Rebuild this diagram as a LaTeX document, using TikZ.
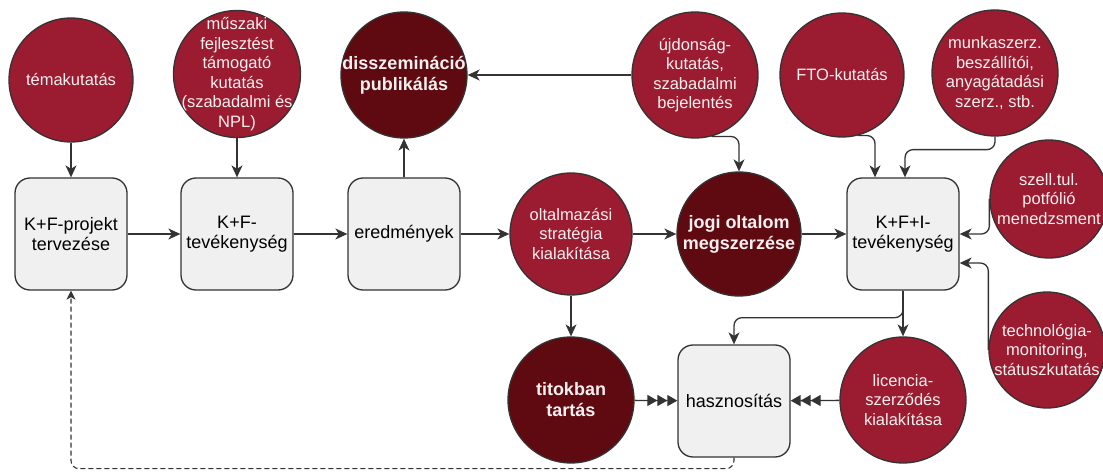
\documentclass[tikz,border=0pt]{standalone}
\usepackage{fontspec}
\setmainfont{Liberation Sans}
\usetikzlibrary{arrows.meta,calc}
\definecolor{cred}{HTML}{9B1B30}
\definecolor{cdark}{HTML}{5E0A10}
\definecolor{cbox}{HTML}{F0F0F0}
\definecolor{cline}{HTML}{333333}
\definecolor{ctext}{HTML}{F7F0F0}
\tikzset{
 bub/.style={circle, draw=cline, line width=1.3pt, inner sep=0pt, minimum size=#1},
 redb/.style={bub=#1, fill=cred},
 darkb/.style={bub=#1, fill=cdark},
 ctxt/.style={text=ctext, align=center, font=\fontsize{16.5}{19.5}\selectfont, inner sep=0pt},
 btxt/.style={text=ctext, align=center, font=\fontsize{18}{21}\selectfont\bfseries, inner sep=0pt},
 box/.style={draw=cline, fill=cbox, line width=1.3pt, rounded corners=15pt, minimum width=112pt, minimum height=112pt, inner sep=0pt, align=center, font=\fontsize{18}{20.5}\selectfont},
 conn/.style={draw=cline, line width=1.3pt, -{Stealth[length=12pt,width=11pt,inset=3.5pt]}, rounded corners=8pt},
 tri/.style={draw=cline, line width=1.3pt, -{Triangle[length=10pt,width=11pt,sep=0pt]Triangle[length=10pt,width=11pt,sep=0pt]Triangle[length=10pt,width=11pt]}},
 dconn/.style={draw=cline, line width=1.1pt, dash pattern=on 5pt off 3pt, -{Stealth[length=9pt,width=9pt,inset=2.5pt]}, rounded corners=8pt},
}
\begin{document}
\begin{tikzpicture}[x=1pt,y=-1pt]
\useasboundingbox (0,0) rectangle (1103,473);
% top row
\node[redb=124pt] (tema) at (71,80) {};
\node[ctxt] (tema-t) at (tema) {témakutatás};
\node[redb=127pt] (musz) at (237,74) {};
\node[ctxt] (musz-t) at (musz) {műszaki\\fejlesztést\\támogató\\kutatás\\(szabadalmi és\\NPL)};
\node[darkb=126pt] (dissz) at (404,75) {};
\node[btxt] (dissz-t) at (dissz) {disszemináció\\publikálás};
\node[redb=126pt] (ujd) at (695,75) {};
\node[ctxt] (ujd-t) at (ujd) {újdonság-\\kutatás,\\szabadalmi\\bejelentés};
\node[redb=124pt] (fto) at (842,75) {};
\node[ctxt] (fto-t) at (fto) {FTO-kutatás};
\node[redb=126pt] (munk) at (995,73) {};
\node[ctxt] (munk-t) at (munk) {munkaszerz.\\beszállítói,\\anyagátadási\\szerz., stb.};
% middle row
\node[box] (kfp) at (71,234) {K+F-projekt\\tervezése};
\node[box] (kft) at (237,234) {K+F-\\tevékenység};
\node[box] (ered) at (404,234) {eredmények};
\node[redb=122pt] (olt) at (571,234) {};
\node[ctxt] (olt-t) at (olt) {oltalmazási\\stratégia\\kialakítása};
\node[darkb=124pt] (jogi) at (739,234) {};
\node[btxt] (jogi-t) at (jogi) {jogi oltalom\\megszerzése};
\node[box] (kfi) at (903,234) {K+F+I-\\tevékenység};
\node[redb=118pt] (szell) at (1049,199) {};
\node[ctxt] (szell-t) at (szell) {szell.tul.\\potfólió\\menedzsment};
\node[redb=116pt] (tech) at (1047,350) {};
\node[ctxt] (tech-t) at (tech) {technológia-\\monitoring,\\státuszkutatás};
% bottom row
\node[darkb=126pt] (titok) at (571,400) {};
\node[btxt] (titok-t) at (titok) {titokban\\tartás};
\node[box] (hasz) at (734,401) {hasznosítás};
\node[redb=126pt] (lic) at (903,400) {};
\node[ctxt] (lic-t) at (lic) {licencia-\\szerződés\\kialakítása};
% connectors
\draw[conn] (tema) -- (kfp);
\draw[conn] (musz) -- (kft);
\draw[conn] (kfp) -- (kft);
\draw[conn] (kft) -- (ered);
\draw[conn] (ered) -- (dissz);
\draw[conn] (ered) -- (olt);
\draw[conn] (olt) -- (jogi);
\draw[conn] (jogi) -- (kfi);
\draw[conn] (ujd) -- (dissz);
\draw[conn] (ujd.-75) -| (jogi.north);
\coordinate (kfi-n1) at ($(kfi.north)+(-28,0)$);
\coordinate (kfi-n2) at ($(kfi.north)+(2,0)$);
\coordinate (kfi-e2) at ($(kfi.east)+(0,29)$);
\draw[conn] (fto.-75) -| (kfi-n1);
\draw[conn] (munk.south) -- ++(0,13) -| (kfi-n2);
\draw[conn] (szell.west) |- (kfi.east);
\draw[conn] (tech.west) |- (kfi-e2);
\draw[conn] (kfi) -- (lic);
\draw[conn] (kfi.south) -- ++(0,27) -| (hasz.north);
\draw[conn] (olt) -- (titok);
\draw[tri] (titok) -- (hasz);
\draw[tri] (lic) -- (hasz);
\draw[dconn] (hasz.south) -- ++(0,11) -| (kfp.south);
\end{tikzpicture}
\end{document}
